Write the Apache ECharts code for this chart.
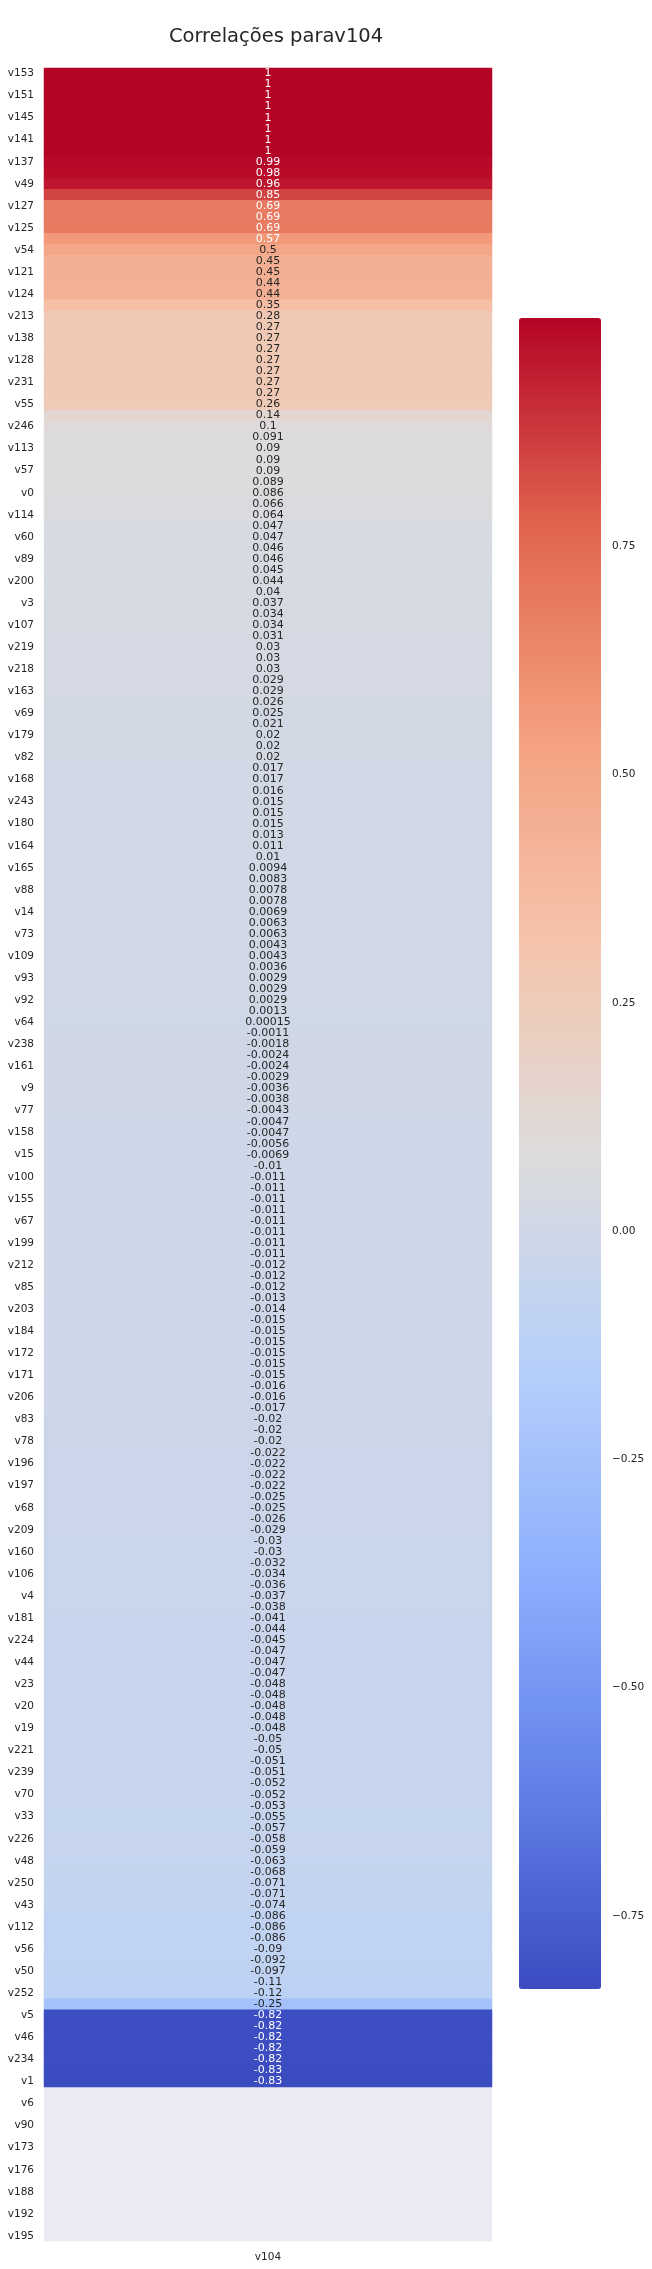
<!DOCTYPE html>
<html><head><meta charset="utf-8">
<script src="https://cdn.jsdelivr.net/npm/echarts@6/dist/echarts.min.js"></script>
<style>html,body{margin:0;padding:0;background:#fff}#c{width:652px;height:2269px}</style>
</head><body><div id="c"></div>
<script>
const titleText = 'Correlações parav104';
const xCategories = ['v104'];
// labels visible on the y axis (every other row, starting from the first)
const shownRowLabels = ['v153','v151','v145','v141','v137','v49','v127','v125','v54','v121','v124','v213','v138','v128','v231','v55','v246','v113','v57','v0','v114','v60','v89','v200','v3','v107','v219','v218','v163','v69','v179','v82','v168','v243','v180','v164','v165','v88','v14','v73','v109','v93','v92','v64','v238','v161','v9','v77','v158','v15','v100','v155','v67','v199','v212','v85','v203','v184','v172','v171','v206','v83','v78','v196','v197','v68','v209','v160','v106','v4','v181','v224','v44','v23','v20','v19','v221','v239','v70','v33','v226','v48','v250','v43','v112','v56','v50','v252','v5','v46','v234','v1','v6','v90','v173','v176','v188','v192','v195'];
const values = [
 1,1,1,1,1,1,1,1,0.99,0.98,0.96,0.85,0.69,0.69,0.69,
 0.57,0.5,0.45,0.45,0.44,0.44,0.35,0.28,0.27,0.27,0.27,0.27,0.27,0.27,0.27,0.26,0.14,
 0.1,0.091,0.09,0.09,0.09,0.089,0.086,0.066,0.064,0.047,0.047,0.046,0.046,0.045,0.044,0.04,0.037,
 0.034,0.034,0.031,0.03,0.03,0.03,0.029,0.029,0.026,0.025,0.021,0.02,0.02,0.02,0.017,0.017,0.016,
 0.015,0.015,0.015,0.013,0.011,0.01,0.0094,0.0083,0.0078,0.0078,0.0069,0.0063,0.0063,0.0043,0.0043,0.0036,0.0029,
 0.0029,0.0029,0.0013,0.00015,-0.0011,-0.0018,-0.0024,-0.0024,-0.0029,-0.0036,-0.0038,-0.0043,-0.0047,-0.0047,-0.0056,-0.0069,-0.01,
 -0.011,-0.011,-0.011,-0.011,-0.011,-0.011,-0.011,-0.011,-0.012,-0.012,-0.012,-0.013,-0.014,
 -0.015,-0.015,-0.015,-0.015,-0.015,-0.015,-0.016,-0.016,-0.017,-0.02,-0.02,-0.02,-0.022,-0.022,-0.022,-0.022,-0.025,-0.025,-0.026,-0.029,
 -0.03,-0.03,-0.032,-0.034,-0.036,-0.037,-0.038,-0.041,-0.044,-0.045,-0.047,-0.047,-0.047,-0.048,-0.048,-0.048,-0.048,-0.048,
 -0.05,-0.05,-0.051,-0.051,-0.052,-0.052,-0.053,-0.055,-0.057,-0.058,-0.059,-0.063,-0.068,-0.071,-0.071,-0.074,
 -0.086,-0.086,-0.086,-0.09,-0.092,-0.097,-0.11,-0.12,-0.25,-0.82,-0.82,-0.82,-0.82,-0.82,-0.83,-0.83,
 null,null,null,null,null,null,null,null,null,null,null,null,null,null
];
const colorbarTicks = [-0.75,-0.5,-0.25,0,0.25,0.5,0.75];
const colorMin = -0.83, colorMax = 1.0;
const coolwarm = ['#3b4cc0','#6282ea','#8db0fe','#b8d0f9','#dddcdc','#f5c4ac','#f4a080','#e0654f','#b40426'];

const yCategories = values.map((v, i) => (i % 2 === 0 ? shownRowLabels[i / 2] : ''));
const cells = [];
values.forEach((v, i) => {
  if (v === null) return;
  cells.push({
    value: [0, i, v],
    label: { color: (v >= 0.55 || v <= -0.5) ? '#ffffff' : '#262626' }
  });
});

const FONT = 'DejaVu Sans';
const chart = echarts.init(document.getElementById('c'), null, { renderer: 'canvas' });
chart.setOption({
  backgroundColor: '#ffffff',
  animation: false,
  title: {
    text: titleText, left: 276, top: 27, textAlign: 'center', padding: 0,
    textStyle: { fontFamily: FONT, fontSize: 19.5, fontWeight: 'normal', color: '#262626' }
  },
  grid: [
    { left: 44, top: 68, width: 448, height: 2173.5, show: true, backgroundColor: '#EAEAF2', borderWidth: 0 },
    { left: 519, top: 318, width: 82, height: 1671, show: false }
  ],
  xAxis: [
    { type: 'category', gridIndex: 0, data: xCategories, position: 'bottom',
      axisLine: { show: false }, axisTick: { show: false }, splitLine: { show: false },
      axisLabel: { fontFamily: FONT, fontSize: 10.5, color: '#262626', margin: 10 } },
    { type: 'value', gridIndex: 1, show: false }
  ],
  yAxis: [
    { type: 'category', gridIndex: 0, data: yCategories, inverse: true,
      axisLine: { show: false }, axisTick: { show: false }, splitLine: { show: false },
      axisLabel: { interval: 0, fontFamily: FONT, fontSize: 10.5, color: '#262626', margin: 10 } },
    { type: 'value', gridIndex: 1, position: 'right', min: colorMin, max: colorMax,
      axisLine: { show: false }, splitLine: { show: false },
      axisTick: { show: true, customValues: colorbarTicks, length: 4, lineStyle: { color: '#262626', width: 1 } },
      axisLabel: { customValues: colorbarTicks, margin: 11, fontFamily: FONT, fontSize: 10.5, color: '#262626',
        formatter: v => v.toFixed(2).replace('-', '\u2212') } }
  ],
  visualMap: {
    type: 'continuous', seriesIndex: 0, min: colorMin, max: colorMax,
    left: 519, top: 318, itemWidth: 82, itemHeight: 1671, padding: 0,
    calculable: false, hoverLink: false, text: null, showLabel: false,
    inRange: { color: coolwarm }
  },
  series: [{
    type: 'heatmap', xAxisIndex: 0, yAxisIndex: 0, data: cells,
    itemStyle: { borderWidth: 0 },
    label: { show: true, fontFamily: FONT, fontSize: 11, formatter: p => String(p.value[2]) },
    emphasis: { disabled: true }
  }]
});
</script>
</body></html>
